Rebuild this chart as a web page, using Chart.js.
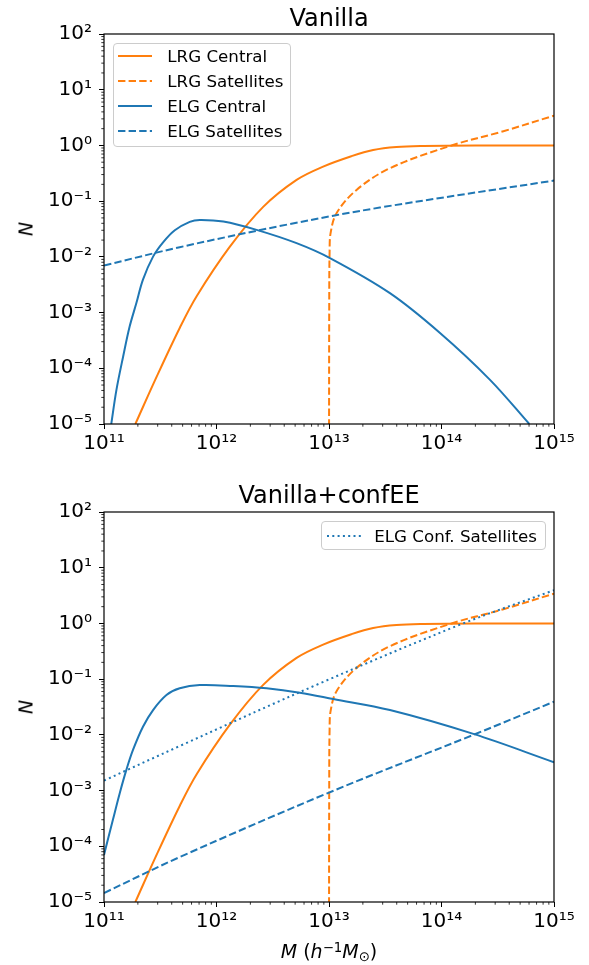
<!DOCTYPE html>
<html>
<head>
<meta charset="utf-8">
<script src="https://cdn.jsdelivr.net/npm/chart.js@4.4.1/dist/chart.umd.min.js"></script>
<style>
  html, body { margin:0; padding:0; background:#fff; }
  body { position:relative; width:589px; height:965px; overflow:hidden; font-family:"DejaVu Sans", sans-serif; color:#000; }
  canvas { position:absolute; left:0; }
  #c1 { top:0; }
  #c2 { top:470px; }
  .txt { position:absolute; white-space:nowrap; line-height:1; }
  .title { font-size:24px; transform:translateX(-50%); }
  .ylab { font-size:19px; font-style:italic; transform:translate(-50%,-50%) rotate(-90deg); }
  .xlab { font-size:19px; transform:translateX(-50%); }
  .xlab .sup { position:relative; top:-0.45em; font-size:0.7em; }
  .xlab .sub { position:relative; top:0.25em; font-size:0.7em; }
  .legend { position:absolute; box-sizing:border-box; border:1px solid #cccccc; border-radius:4px; background:rgba(255,255,255,.8); font-size:16.7px; }
  .legend .row { position:absolute; left:0; height:24.8px; display:flex; align-items:center; white-space:nowrap; }
  .legend svg { display:block; }
</style>
</head>
<body>
<canvas id="c1" width="589" height="470"></canvas>
<canvas id="c2" width="589" height="495"></canvas>
<div class="txt title" style="left:329px;top:6px">Vanilla</div>
<div class="txt title" style="left:329px;top:483px">Vanilla+confEE</div>
<div class="txt ylab" style="left:26px;top:229px">N</div>
<div class="txt ylab" style="left:26px;top:707px">N</div>
<div class="txt xlab" style="left:329px;top:942px"><i>M</i> (<i>h</i><span class="sup">−1</span><i>M</i><span class="sub">⊙</span>)</div>
<script>
// Halo occupation: N(M) for LRG / ELG centrals and satellites, two panels.
const ORANGE = '#ff7f0e', BLUE = '#1f77b4';
const DASH = [7.4, 3.2], DOT = [2, 3.3];

const X_TICKS = [1e11, 1e12, 1e13, 1e14, 1e15];
const X_TICK_LABELS = ['10¹¹', '10¹²', '10¹³', '10¹⁴', '10¹⁵'];
const Y_TICKS = [1e-5, 1e-4, 1e-3, 1e-2, 1e-1, 1e0, 1e1, 1e2];
const Y_TICK_LABELS = ['10⁻⁵', '10⁻⁴', '10⁻³', '10⁻²', '10⁻¹', '10⁰', '10¹', '10²'];

// LRG curves (same in both panels)
const LRG_CEN_M = [1.90e11, 2.96e11, 4.71e11, 6.64e11, 1.31e12, 2.60e12, 5.15e12, 8.87e12, 1.58e13, 2.47e13, 3.98e13, 6.89e13, 2.0e14, 1.0e15];
const LRG_CEN_N = [1.0e-5, 7.3e-5, 5.3e-4, 1.95e-3, 1.51e-2, 7.9e-2, 0.241, 0.417, 0.64, 0.83, 0.94, 0.98, 1.0, 1.0];
const LRG_SAT_M = [1.000e13, 1.005e13, 1.012e13, 1.033e13, 1.167e13, 1.758e13, 3.48e13, 1.23e14, 3.55e14, 1.0e15];
const LRG_SAT_N = [1e-6, 2.0e-3, 1.17e-2, 2.66e-2, 6.08e-2, 0.159, 0.39, 1.0, 1.8, 3.43];

// Top panel: Vanilla ELG
const ELG_CEN_TOP_M = [1.16e11, 1.29e11, 1.48e11, 1.69e11, 1.94e11, 2.22e11, 2.73e11, 3.35e11, 4.26e11, 5.78e11, 7.10e11, 1.15e12, 2.27e12, 5.15e12, 1.02e13, 3.48e13, 9.70e13, 2.70e14, 6.03e14];
const ELG_CEN_TOP_N = [1.0e-5, 4.1e-5, 1.63e-4, 5.6e-4, 1.48e-3, 3.9e-3, 1.01e-2, 1.82e-2, 3.0e-2, 4.25e-2, 4.6e-2, 4.3e-2, 3.05e-2, 1.76e-2, 9.5e-3, 2.23e-3, 4.3e-4, 6.2e-5, 1.0e-5];
const ELG_SAT_TOP_M = [1e11, 4.71e11, 4.49e12, 2.83e13, 1e15];
const ELG_SAT_TOP_N = [7.0e-3, 1.49e-2, 3.88e-2, 7.67e-2, 0.234];

// Bottom panel: Vanilla+confEE ELG
const ELG_CEN_BOT_M = [1.0e11, 1.20e11, 1.38e11, 1.58e11, 1.81e11, 2.22e11, 2.73e11, 3.59e11, 4.71e11, 7.10e11, 1.41e12, 2.79e12, 5.51e12, 1.09e13, 3.48e13, 1.92e14, 1.0e15];
const ELG_CEN_BOT_N = [7.0e-5, 2.99e-4, 8.97e-4, 2.35e-3, 5.36e-3, 1.40e-2, 2.79e-2, 5.19e-2, 6.84e-2, 7.83e-2, 7.52e-2, 6.84e-2, 5.71e-2, 4.4e-2, 2.79e-2, 1.04e-2, 3.23e-3];
const ELG_SAT_BOT_M = [1e11, 4.71e11, 1e13, 1.92e14, 1e15];
const ELG_SAT_BOT_N = [1.45e-5, 6.4e-5, 9.2e-4, 1.0e-2, 3.94e-2];
const ELG_CONF_M = [1e11, 4.71e11, 8.30e12, 1.56e14, 1e15];
const ELG_CONF_N = [1.51e-3, 6.3e-3, 8.4e-2, 1.0, 3.95];

// minor tick positions (2..9 x 10^n)
const X_MINOR = [], Y_MINOR = [];
for (let e = 11; e < 15; e++) for (let m = 2; m <= 9; m++) X_MINOR.push(m * Math.pow(10, e));
for (let e = -5; e < 2; e++) for (let m = 2; m <= 9; m++) Y_MINOR.push(m * Math.pow(10, e));

function ds(label, xs, ys, color, dash) {
  return {
    label, data: xs.map((m, i) => ({x: m, y: ys[i]})),
    borderColor: color, borderWidth: 2, borderDash: dash || [],
    pointRadius: 0, fill: false, tension: 0.35
  };
}

// spines + minor ticks, drawn above the lines like matplotlib
const frameTicks = {
  id: 'frameTicks',
  afterDatasetsDraw(chart) {
    const {ctx, chartArea: a, scales: {x, y}} = chart;
    ctx.save();
    ctx.strokeStyle = '#000';
    ctx.lineWidth = 0.8;
    ctx.beginPath();
    X_MINOR.forEach(v => { const p = x.getPixelForValue(v); ctx.moveTo(p, a.bottom); ctx.lineTo(p, a.bottom + 2.7); });
    Y_MINOR.forEach(v => { const p = y.getPixelForValue(v); ctx.moveTo(a.left, p); ctx.lineTo(a.left - 2.7, p); });
    ctx.stroke();
    ctx.lineWidth = 1.2;
    ctx.strokeRect(a.left, a.top, a.right - a.left, a.bottom - a.top);
    ctx.restore();
  }
};

const tickFont = {family: 'DejaVu Sans', size: 20};
function makeChart(id, datasets, padTop, xAxisH) {
  return new Chart(document.getElementById(id), {
    type: 'line',
    data: {datasets},
    options: {
      responsive: false, animation: false, events: [],
      layout: {padding: {top: padTop, right: 35, left: 0, bottom: 0}},
      plugins: {legend: {display: false}, tooltip: {enabled: false}, title: {display: false}},
      scales: {
        x: {
          type: 'logarithmic', min: 1e11, max: 1e15,
          afterBuildTicks: s => { s.ticks = X_TICKS.map(v => ({value: v})); },
          afterFit: s => { s.height = xAxisH; s.paddingLeft = 0; s.paddingRight = 0; },
          ticks: {callback: (v, i) => X_TICK_LABELS[i], autoSkip: false, maxRotation: 0, minRotation: 0, color: '#000', font: tickFont, padding: 3},
          grid: {drawOnChartArea: false, tickLength: 5, tickColor: '#000', tickWidth: 1},
          border: {display: false}
        },
        y: {
          type: 'logarithmic', min: 1e-5, max: 1e2,
          afterBuildTicks: s => { s.ticks = Y_TICKS.map(v => ({value: v})); },
          afterFit: s => { s.width = 104; s.paddingTop = 0; s.paddingBottom = 0; },
          ticks: {callback: (v, i) => Y_TICK_LABELS[i], autoSkip: false, color: '#000', font: tickFont, padding: 7},
          grid: {drawOnChartArea: false, tickLength: 5, tickColor: '#000', tickWidth: 1},
          border: {display: false}
        }
      }
    },
    plugins: [frameTicks]
  });
}

// dataset index 0 is drawn on top
const topSets = [
  ds('ELG Satellites', ELG_SAT_TOP_M, ELG_SAT_TOP_N, BLUE, DASH),
  ds('ELG Central', ELG_CEN_TOP_M, ELG_CEN_TOP_N, BLUE),
  ds('LRG Satellites', LRG_SAT_M, LRG_SAT_N, ORANGE, DASH),
  ds('LRG Central', LRG_CEN_M, LRG_CEN_N, ORANGE)
];
const botSets = [
  ds('ELG Conf. Satellites', ELG_CONF_M, ELG_CONF_N, BLUE, DOT),
  ds('ELG Satellites', ELG_SAT_BOT_M, ELG_SAT_BOT_N, BLUE, DASH),
  ds('ELG Central', ELG_CEN_BOT_M, ELG_CEN_BOT_N, BLUE),
  ds('LRG Satellites', LRG_SAT_M, LRG_SAT_N, ORANGE, DASH),
  ds('LRG Central', LRG_CEN_M, LRG_CEN_N, ORANGE)
];
makeChart('c1', topSets, 34, 46);
makeChart('c2', botSets, 42, 63);

function legend(items, box) {
  const el = document.createElement('div');
  el.className = 'legend';
  Object.assign(el.style, {left: box.left + 'px', top: box.top + 'px', width: box.w + 'px', height: box.h + 'px'});
  items.forEach((d, i) => {
    const row = document.createElement('div');
    row.className = 'row';
    row.style.top = (box.row0 + i * 24.8) + 'px';
    row.innerHTML = `<svg width="34" height="6" style="margin-left:${box.sx}px"><line x1="0" y1="3" x2="34" y2="3" stroke="${d.borderColor}" stroke-width="2" stroke-dasharray="${d.borderDash.join(' ')}"/></svg><span style="margin-left:${box.gap}px">${d.label}</span>`;
    el.appendChild(row);
  });
  document.body.appendChild(el);
}
legend([topSets[3], topSets[2], topSets[1], topSets[0]], {left: 112.7, top: 43, w: 178.3, h: 104, row0: 0, sx: 4.6, gap: 15});
legend([botSets[0]], {left: 320.7, top: 520.7, w: 225.3, h: 29.3, row0: 1.9, sx: 5, gap: 13.5});
</script>
</body>
</html>
